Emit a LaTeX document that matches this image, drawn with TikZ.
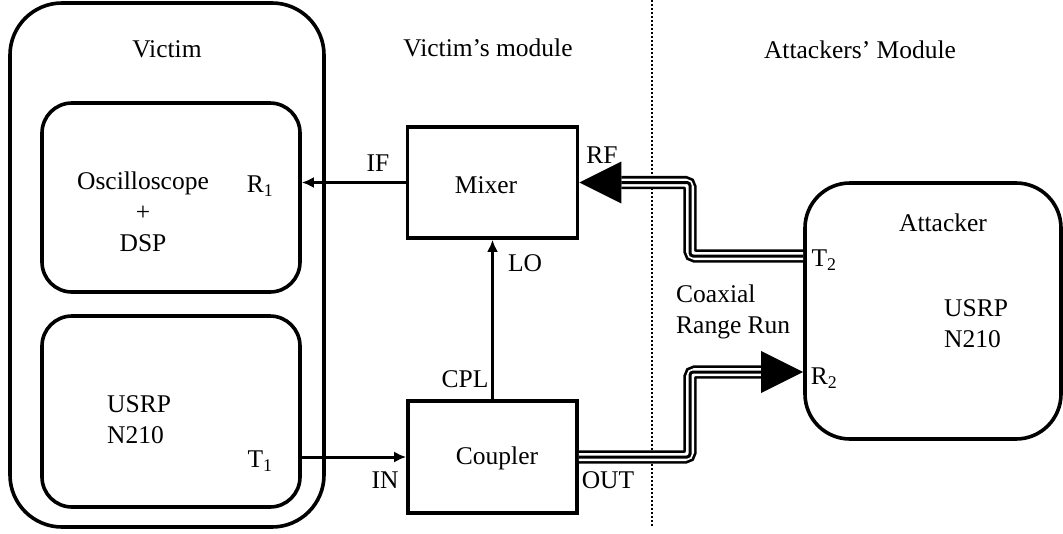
\documentclass[tikz,border=0pt]{standalone}
\usepackage{fontspec}
\setmainfont{Liberation Serif}
\usetikzlibrary{arrows.meta,calc}
\begin{document}
\begin{tikzpicture}[x=1pt,y=-1pt,
  lbl/.style={font=\fontsize{25.5}{31}\selectfont, inner sep=0pt},
  rbox/.style={draw, line width=3.6pt, rounded corners=#1, inner sep=0pt},
  sbox/.style={draw, line width=3.6pt, inner sep=0pt},
  sig/.style={line width=3pt, -{Latex[length=12pt,width=11pt]}},
  coaxouter/.style={draw=black, line width=2.7pt, double=white, double distance=8pt, rounded corners=5pt},
  coaxinner/.style={draw=black, line width=3pt, rounded corners=3pt},
  divider/.style={line width=2pt, dash pattern=on 2pt off 2pt},
  ]
\useasboundingbox (0,0) rectangle (1063,533);

% boxes
\node[rbox=52pt, minimum width=314pt, minimum height=524pt] (victim) at (167,265) {};
\node[rbox=30pt, minimum width=258pt, minimum height=189pt] (osc) at (171,197.5) {};
\node[rbox=30pt, minimum width=258pt, minimum height=191pt] (usrpv) at (171,411.5) {};
\node[sbox, minimum width=170pt, minimum height=111pt] (mixer) at (492.5,182.5) {};
\node[sbox, minimum width=169pt, minimum height=112pt] (coupler) at (492.5,457) {};
\node[rbox=45pt, minimum width=256pt, minimum height=256pt] (attacker) at (933,311) {};

% divider
\coordinate (dtop) at (652,0);
\coordinate (dbot) at (652,527);
\draw[divider] (dtop) -- (dbot);

% texts
\node[lbl] (tvictim) at (167,49) {Victim};
\node[lbl] (tvmod) at (488,48) {Victim's module};
\node[lbl] (tamod) at (860,50) {Attackers' Module};
\node[lbl, align=center] (tosc) at (143,212) {Oscilloscope\\+\\DSP};
\node[lbl] (tr1) at (260,186) {R\textsubscript{1}};
\node[lbl, align=left, anchor=west] (tusrpv) at (107,420) {USRP\\N210};
\node[lbl] (tt1) at (260,461) {T\textsubscript{1}};
\node[lbl] (tif) at (378,163) {IF};
\node[lbl] (tmixer) at (486,185) {Mixer};
\node[lbl] (trf) at (602,155) {RF};
\node[lbl] (tlo) at (525,263) {LO};
\node[lbl] (tcpl) at (465,379) {CPL};
\node[lbl] (tcoupler) at (497,458) {Coupler};
\node[lbl] (tin) at (385,480) {IN};
\node[lbl] (tout) at (608,480) {OUT};
\node[lbl] (tattacker) at (943,223) {Attacker};
\node[lbl] (tt2) at (824,260) {T\textsubscript{2}};
\node[lbl] (tr2) at (824,378) {R\textsubscript{2}};
\node[lbl, align=left, anchor=west] (tusrpa) at (944,324) {USRP\\N210};
\node[lbl, align=left, anchor=west] (tcoax) at (676,312) {Coaxial\\Range Run};

% signal arrows
\draw[sig] (mixer.west) -- (mixer.west -| osc.east);
\draw[sig] (coupler.west -| usrpv.east) -- (coupler.west);
\draw[sig] (coupler.north) -- (mixer.south);

% coaxial runs
\coordinate (bx) at (690,0);
\coordinate (yt2) at (0,256);
\coordinate (yr2) at (0,372);
\coordinate (t2) at (attacker.west |- yt2);
\coordinate (r2) at (attacker.west |- yr2);
\coordinate (rfbase) at ($(mixer.east)+(42,0)$);
\coordinate (r2base) at ($(r2)+(-42,0)$);

\draw[coaxouter] (t2) -- (t2 -| bx) -- (bx |- mixer.east) -- (rfbase);
\draw[coaxinner] (t2) -- (t2 -| bx) -- (bx |- mixer.east) -- (rfbase);
\fill (mixer.east) -- ($(rfbase)+(0,-21)$) -- ($(rfbase)+(0,21)$) -- cycle;

\draw[coaxouter] (coupler.east) -- (coupler.east -| bx) -- (bx |- r2) -- (r2base);
\draw[coaxinner] (coupler.east) -- (coupler.east -| bx) -- (bx |- r2) -- (r2base);
\fill (r2) -- ($(r2base)+(0,-21)$) -- ($(r2base)+(0,21)$) -- cycle;
\end{tikzpicture}
\end{document}
